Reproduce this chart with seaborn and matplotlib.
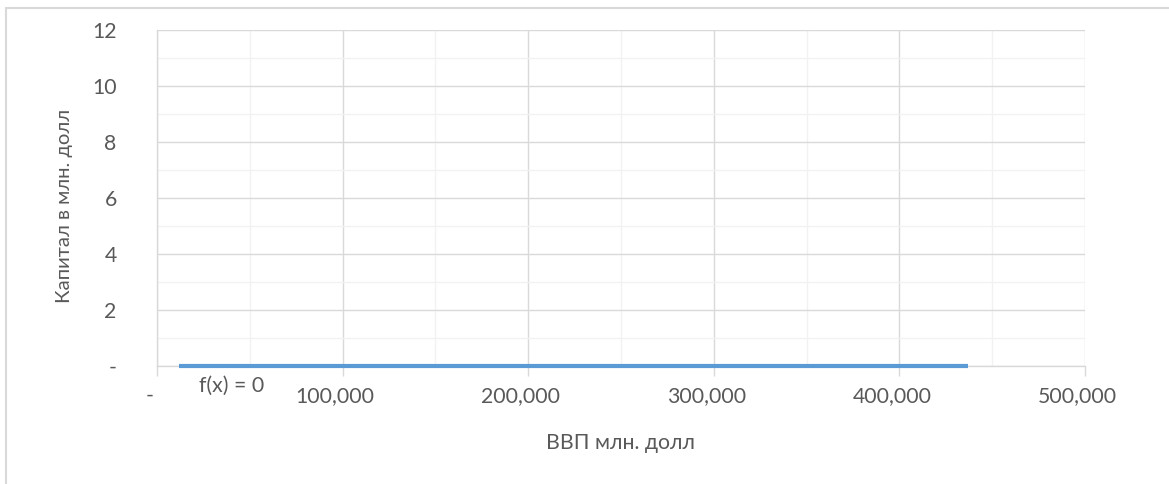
import matplotlib
matplotlib.use("Agg")
import matplotlib.pyplot as plt
import matplotlib.transforms as mtransforms
from matplotlib.lines import Line2D
from matplotlib.ticker import MultipleLocator, FuncFormatter
import seaborn as sns
import pandas as pd

# Data: GDP (x) vs capital (y); the fitted trend is flat at zero
gdp = [12000, 437000]
capital = [0, 0]
trend_label = "f(x) = 0"
x_title = "ВВП млн. долл"
y_title = "Капитал в млн. долл"

sns.set_theme(style="white")
plt.rcParams["font.family"] = ["Lato", "DejaVu Sans"]

FS = 15.3
GREY = "#595959"
W, H = 1169, 484
fig = plt.figure(figsize=(W / 100, H / 100), dpi=100)
ax = fig.add_axes([157 / W, 1 - 366 / H, (1085 - 157) / W, (366 - 30) / H])

df = pd.DataFrame({"gdp": gdp, "capital": capital})
sns.lineplot(data=df, x="gdp", y="capital", ax=ax, color="#5B9BD5",
             linewidth=3.0, solid_capstyle="butt", zorder=5, clip_on=False)

ax.set_xlim(0, 500000)
ax.set_ylim(0, 12)
ax.xaxis.set_major_locator(MultipleLocator(100000))
ax.xaxis.set_minor_locator(MultipleLocator(50000))
ax.yaxis.set_major_locator(MultipleLocator(2))
ax.yaxis.set_minor_locator(MultipleLocator(1))

ax.grid(which="major", color="#D9D9D9", linewidth=1.0, zorder=0)
ax.grid(which="minor", color="#F2F2F2", linewidth=1.0, zorder=0)
ax.set_axisbelow(True)

for side in ["top", "right"]:
    ax.spines[side].set_visible(False)
for side in ["left", "bottom"]:
    ax.spines[side].set_color("#D9D9D9")
    ax.spines[side].set_linewidth(1.0)

ax.xaxis.set_major_formatter(FuncFormatter(lambda v, p: "-" if v == 0 else f"{int(v):,}"))
ax.yaxis.set_major_formatter(FuncFormatter(lambda v, p: "-" if v == 0 else f"{int(v)}"))

ax.tick_params(axis="x", which="major", bottom=True, length=7, width=1.0,
               color="#D9D9D9", labelsize=FS, labelcolor=GREY, pad=7.5)
ax.tick_params(axis="x", which="minor", bottom=False)
ax.tick_params(axis="y", which="both", left=False, labelsize=FS,
               labelcolor=GREY, pad=23)

# Number format leaves a trailing pad, shifting labels slightly left
shift = mtransforms.ScaledTranslation(-7.5 / 100, 0, fig.dpi_scale_trans)
for lbl in ax.get_xticklabels():
    lbl.set_transform(lbl.get_transform() + shift)

ax.set_xlabel(x_title, fontsize=FS, color=GREY, labelpad=19)
ax.set_ylabel(y_title, fontsize=14.6, color=GREY, labelpad=14)
ax.yaxis.label.set_y(0.475)

ax.annotate(trend_label, xy=(40000, 0), xytext=(0, -14), textcoords="offset points",
            ha="center", va="center", fontsize=FS, color=GREY)

# Chart-area frame
fig.add_artist(Line2D([5.5 / W, 5.5 / W], [-0.01, 1 - 8 / H], color="#D9D9D9",
                      linewidth=1.5, transform=fig.transFigure))
fig.add_artist(Line2D([5.5 / W, 1.0], [1 - 8 / H, 1 - 8 / H], color="#D9D9D9",
                      linewidth=1.5, transform=fig.transFigure))

fig.savefig("out.png", dpi=100)
